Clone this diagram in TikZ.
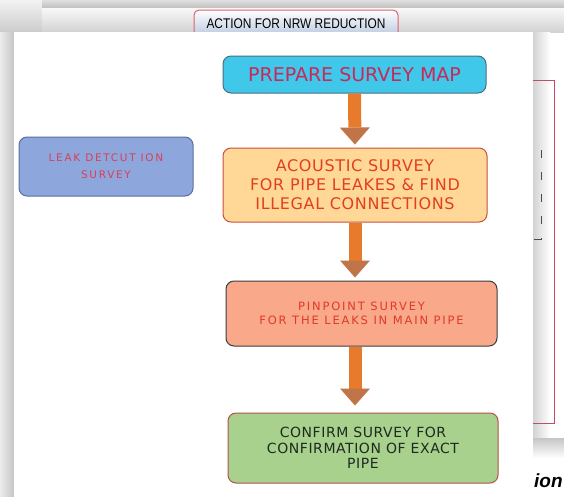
\documentclass[tikz,border=0pt]{standalone}
\usepackage{fontspec}
\setmainfont{DejaVu Sans}
\newfontfamily\titlefont[FakeStretch=0.85]{Liberation Sans}
\newfontfamily\capfont{Liberation Sans}
\newfontfamily\spacedfont[LetterSpace=16]{DejaVu Sans}
\newfontfamily\boxfont[LetterSpace=4]{DejaVu Sans}
\usepackage{tikz}
\usetikzlibrary{arrows.meta}
\usepackage{xcolor}
\definecolor{prepfill}{HTML}{3FC8EA}
\definecolor{prepline}{HTML}{4A6E80}
\definecolor{preptext}{HTML}{C8285A}
\definecolor{acoufill}{HTML}{FFD898}
\definecolor{acouline}{HTML}{C8503C}
\definecolor{acoutext}{HTML}{E0401E}
\definecolor{pinpfill}{HTML}{F9A889}
\definecolor{pinpline}{HTML}{3C3C3C}
\definecolor{pinptext}{HTML}{E03A28}
\definecolor{conffill}{HTML}{A9D18E}
\definecolor{confline}{HTML}{B4504A}
\definecolor{conftext}{HTML}{1E2A1E}
\definecolor{leakfill}{HTML}{8DA6DC}
\definecolor{leakline}{HTML}{5A6E9E}
\definecolor{leaktext}{HTML}{D8405A}
\definecolor{actfill}{HTML}{B4C4DC}
\definecolor{actline}{HTML}{E06070}
\definecolor{redframe}{HTML}{C05060}
\definecolor{shaft}{HTML}{E87A2C}
\definecolor{arrowhead}{HTML}{C07448}

\begin{document}
\begin{tikzpicture}[x=1pt,y=-1pt,
  box/.style={rounded corners=8pt,line width=1pt,inner sep=0pt,align=center},
  flowarrow/.style={line width=13pt,draw=shaft,shorten >=3pt,
    -{Triangle[width=30pt,length=17pt,line width=0pt,color=arrowhead]}}]
\useasboundingbox (0,0) rectangle (564,496);
\fill[white] (0,0) rectangle (564,496);
\shade[top color=gray!10,bottom color=gray!40] (0,0) rectangle (42,32);
\shade[left color=gray!15,right color=gray!45] (0,32) rectangle (14,496);
\shade[top color=gray!25,bottom color=gray!50] (42,0) rectangle (564,8);
\fill[white] (42,8) rectangle (564,438);
\shade[top color=gray!5,bottom color=gray!35] (42,8) rectangle (564,32);
\shade[left color=gray!35,right color=white] (533,32) rectangle (550,438);
\shade[top color=gray!45,bottom color=white] (533,438) rectangle (564,458);
\node[box,rounded corners=5pt,draw=actline,top color=white,bottom color=actfill,
  minimum width=204pt,minimum height=28pt,
  font=\titlefont\fontsize{14}{16}\selectfont] (action) at (296,24) {ACTION FOR NRW REDUCTION};
\draw[redframe,line width=1pt] (500,80) rectangle (554,423);
\draw[gray!60!black,line width=1pt,dash pattern=on 8pt off 14pt] (520,149) -- (541,149) -- (541,239) -- (520,239);
\fill[white] (14,32) rectangle (533,496);
\node[box,draw=prepline,fill=prepfill,text=preptext,minimum width=263pt,minimum height=37pt,
  font=\fontsize{19}{22}\selectfont] (prep) at (354.5,74.5) {PREPARE SURVEY MAP};
\node[box,draw=acouline,fill=acoufill,text=acoutext,minimum width=264pt,minimum height=74pt,
  font=\boxfont\fontsize{16}{19}\selectfont] (acou) at (355,185) {ACOUSTIC SURVEY\\FOR PIPE LEAKES \& FIND\\ILLEGAL CONNECTIONS};
\node[box,draw=pinpline,fill=pinpfill,text=pinptext,minimum width=271pt,minimum height=65pt,
  font=\spacedfont\fontsize{11.5}{14}\selectfont] (pinp) at (361.5,313.5) {PINPOINT SURVEY\\FOR THE LEAKS IN MAIN PIPE};
\node[box,draw=confline,fill=conffill,text=conftext,minimum width=270pt,minimum height=70pt,
  font=\boxfont\fontsize{14}{15.5}\selectfont] (conf) at (363,448) {CONFIRM SURVEY FOR\\CONFIRMATION OF EXACT\\PIPE};
\node[box,draw=leakline,fill=leakfill,text=leaktext,minimum width=174pt,minimum height=59pt,
  font=\spacedfont\fontsize{10.5}{17}\selectfont] (leak) at (106,166.5) {LEAK DETCUT ION\\SURVEY};
\draw[flowarrow] (prep.south) -- (acou.north);
\draw[flowarrow] (acou.south) -- (acou.south |- pinp.north);
\draw[flowarrow,shorten >=7pt] (acou.south |- pinp.south) -- (acou.south |- conf.north);
\node[anchor=base west,inner sep=0pt,font=\capfont\bfseries\itshape\fontsize{19}{22}\selectfont] (caption) at (534,487) {ion};
\end{tikzpicture}
\end{document}
